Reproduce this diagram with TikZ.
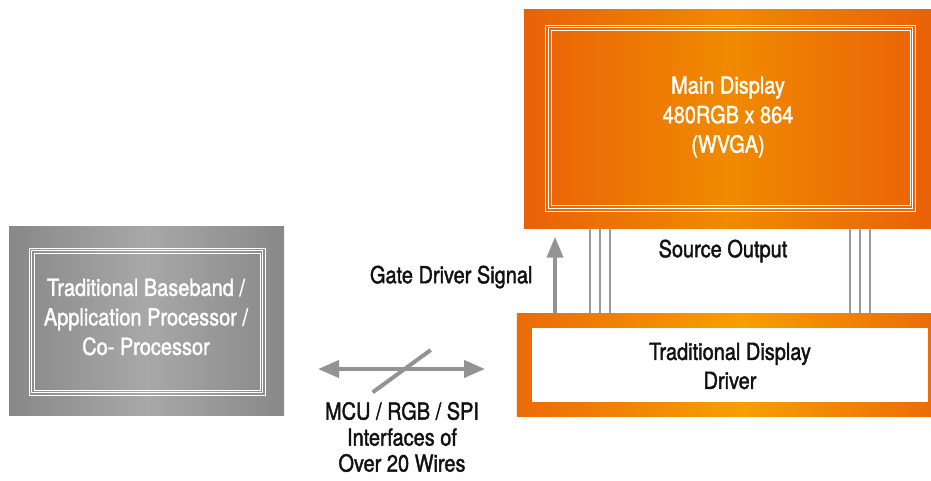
\documentclass[tikz,border=0pt]{standalone}
\usepackage{fontspec}
\setmainfont{TeX Gyre Heros}[FakeStretch=0.85,FakeBold=1.6]
\usetikzlibrary{arrows.meta}
\definecolor{dispEdge}{HTML}{E8560A}
\definecolor{dispMid}{HTML}{F08A00}
\definecolor{drvMid}{HTML}{F5A000}
\definecolor{grayEdge}{HTML}{686868}
\definecolor{grayMid}{HTML}{A8A8A8}
\definecolor{wire}{HTML}{999999}
\definecolor{arrowgray}{HTML}{939393}
\definecolor{txt}{HTML}{111111}
\pgfdeclarehorizontalshading{dispshade}{100bp}{color(0bp)=(dispEdge); color(18bp)=(dispEdge); color(50bp)=(dispMid); color(82bp)=(dispEdge); color(100bp)=(dispEdge)}
\pgfdeclarehorizontalshading{drvshade}{100bp}{color(0bp)=(dispEdge); color(15bp)=(dispEdge); color(52bp)=(drvMid); color(85bp)=(dispEdge); color(100bp)=(dispEdge)}
\pgfdeclarehorizontalshading{grayshade}{100bp}{color(0bp)=(grayEdge); color(50bp)=(grayMid); color(100bp)=(grayEdge)}
\tikzset{
  orangebox/.style={inner sep=0pt, anchor=north west, shading=dispshade},
  drvbox/.style={inner sep=0pt, anchor=north west, shading=drvshade},
  graybox/.style={inner sep=0pt, anchor=north west, shading=grayshade},
  frameline/.style={draw=white, line width=0.8pt},
  whitetext/.style={text=white, align=center, font=\fontsize{23.5}{29.5}\selectfont},
  blacktext/.style={text=txt, align=center, font=\fontsize{23.5}{26}\selectfont},
  wireline/.style={draw=wire, line width=2pt},
  bigarrow/.style={draw=arrowgray, line width=4pt}
}
\begin{document}
\begin{tikzpicture}[x=1pt,y=-1pt]
\useasboundingbox (0,0) rectangle (931,480);

% main display
\node[orangebox, minimum width=407pt, minimum height=219pt] (disp) at (524,9) {};
\draw[frameline] (545.7,25) rectangle (915.3,211);
\draw[frameline] (548.4,27.7) rectangle (912.6,208.3);
\draw[frameline] (551.1,30.4) rectangle (909.9,205.6);
\node[whitetext] (disptext) at (728,117) {Main Display\\480RGB x 864\\(WVGA)};

% processor
\node[graybox, minimum width=275pt, minimum height=189pt] (proc) at (9,226.7) {};
\draw[frameline] (29.3,248.3) rectangle (265,395);
\draw[frameline] (31.6,250.6) rectangle (262.7,392.7);
\draw[frameline] (33.9,252.9) rectangle (260.4,390.4);
\node[whitetext] (proctext) at (146,317) {Traditional Baseband /\\Application Processor /\\Co- Processor};

% driver
\node[drvbox, minimum width=414.3pt, minimum height=103.7pt] (drv) at (516.7,313) {};
\node[fill=white, inner sep=0pt, anchor=north west, minimum width=396.3pt, minimum height=74.4pt] (drvin) at (531.7,327.3) {};
\node[blacktext, font=\fontsize{23.5}{29}\selectfont] (drvtext) at (730,366) {Traditional Display\\Driver};

% source output wires
\foreach \x in {590,600,610,850,860,870}{
  \draw[wireline] (disp.south -| \x,0) -- (drv.north -| \x,0);
}
\node[blacktext] (srclabel) at (723,251) {Source Output};

% gate driver signal
\coordinate (gtip) at (555,236.7);
\draw[bigarrow, -{Triangle[length=21pt,width=16pt]}] (drv.north -| 555,0) -- (gtip);
\node[blacktext, anchor=east] (gatelabel) at (536,277) {Gate Driver Signal};

% interface arrow
\coordinate (ifl) at (318,369);
\coordinate (ifr) at (485,369);
\draw[bigarrow, {Triangle[length=21pt,width=17pt]}-{Triangle[length=21pt,width=17pt]}] (ifl) -- (ifr);
\coordinate (sl1) at (372.7,392.3);
\coordinate (sl2) at (430.7,350);
\draw[bigarrow] (sl1) -- (sl2);
\node[blacktext] (iflabel) at (402,437) {MCU / RGB / SPI\\Interfaces of\\Over 20 Wires};
\end{tikzpicture}
\end{document}
